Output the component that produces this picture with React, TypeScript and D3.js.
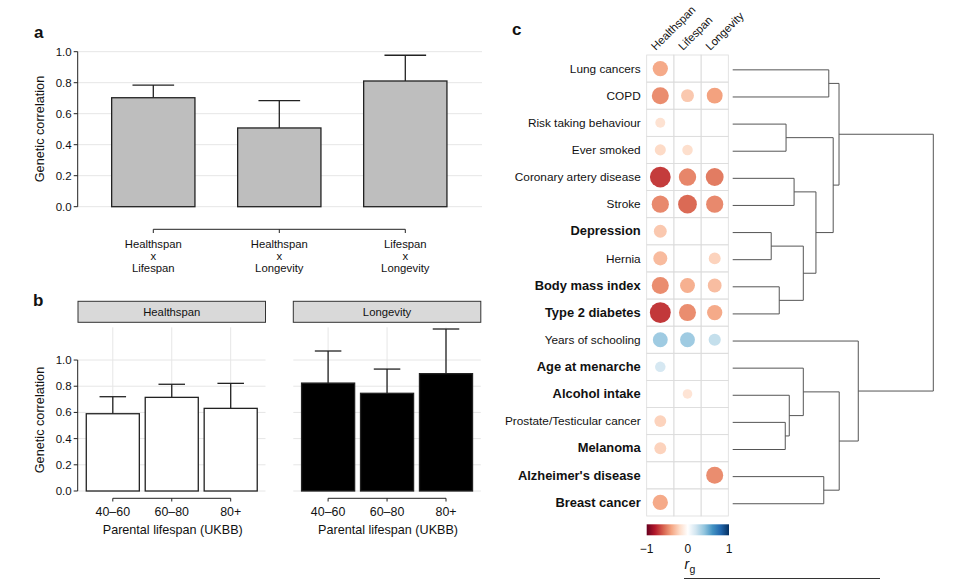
import React from 'react';
import * as d3 from 'd3';

// panel a: pairwise genetic correlations between the three traits
const pairLabels = [
  ['Healthspan', 'x', 'Lifespan'],
  ['Healthspan', 'x', 'Longevity'],
  ['Lifespan', 'x', 'Longevity'],
];
const pairRg = [0.703, 0.508, 0.811];
const pairUpper = [0.785, 0.684, 0.977];
const aTicks = [0, 0.2, 0.4, 0.6, 0.8, 1.0];

// panel b: correlation with parental lifespan groups (UKBB)
const ageGroups = ['40–60', '60–80', '80+'];
const healthspanRg = [0.59, 0.715, 0.631];
const healthspanUpper = [0.72, 0.815, 0.822];
const longevityRg = [0.824, 0.746, 0.896];
const longevityUpper = [1.069, 0.931, 1.237];
const bTicks = [0, 0.2, 0.4, 0.6, 0.8, 1.0];

// panel c: rg of traits with healthspan / lifespan / longevity (null = not shown)
const traitCols = ['Healthspan', 'Lifespan', 'Longevity'];
const traits = [
  'Lung cancers',
  'COPD',
  'Risk taking behaviour',
  'Ever smoked',
  'Coronary artery disease',
  'Stroke',
  'Depression',
  'Hernia',
  'Body mass index',
  'Type 2 diabetes',
  'Years of schooling',
  'Age at menarche',
  'Alcohol intake',
  'Prostate/Testicular cancer',
  'Melanoma',
  "Alzheimer's disease",
  'Breast cancer',
];
const boldTraits = [
  'Depression',
  'Body mass index',
  'Type 2 diabetes',
  'Age at menarche',
  'Alcohol intake',
  'Melanoma',
  "Alzheimer's disease",
  'Breast cancer',
];
const rgHealthspan = [-0.38, -0.47, -0.16, -0.2, -0.7, -0.48, -0.27, -0.32, -0.47, -0.71, 0.36, 0.18, null, -0.23, -0.23, null, -0.38];
const rgLifespan = [null, -0.27, null, -0.18, -0.49, -0.57, null, null, -0.36, -0.47, 0.36, null, -0.15, null, null, null, null];
const rgLongevity = [null, -0.41, null, null, -0.52, -0.48, null, -0.23, -0.31, -0.38, 0.24, null, null, null, null, -0.47, null];

// dendrogram, hclust style: negative = leaf (row), positive = earlier merge
const dendroMerges: [number, number, number][] = [
  [-7, -8, 0.192],
  [-9, -10, 0.232],
  [-14, -15, 0.262],
  [-3, -4, 0.266],
  [-13, 3, 0.282],
  [-5, -6, 0.306],
  [1, 2, 0.352],
  [-12, 5, 0.352],
  [6, 7, 0.415],
  [-16, -17, 0.454],
  [-1, -2, 0.479],
  [4, 9, 0.501],
  [8, 10, 0.531],
  [11, 12, 0.53],
  [-11, 13, 0.626],
  [14, 15, 1.0],
];
const legendTicks = [-1, 0, 1];
// corrplot style red-white-blue ramp
const rampColors = ['#67001F', '#B2182B', '#D6604D', '#F4A582', '#FDDBC7', '#FFFFFF', '#D1E5F0', '#92C5DE', '#4393C3', '#2166AC', '#053061'];

const font = "'Liberation Sans', Arial, Helvetica, sans-serif";
const gridCol = '#e6e6e6';
const ink = '#222';

function PanelA() {
  const y = d3.scaleLinear().domain([0, 1]).range([206.7, 51.7]);
  const keys = pairLabels.map((d) => d.join(' '));
  const x = d3.scalePoint().domain(keys).range([153.3, 405.3]);
  const bw = x.step() * 0.661;
  const axisX = 77.7;
  return (
    <g>
      <text x={34} y={38} fontSize={17} fontWeight="bold">a</text>
      {aTicks.map((t) => (
        <g key={t}>
          <line x1={axisX} x2={482} y1={y(t)} y2={y(t)} stroke={gridCol} />
          <line x1={axisX - 4} x2={axisX} y1={y(t)} y2={y(t)} stroke={ink} />
          <text x={axisX - 6} y={y(t) + 4} fontSize={11.5} textAnchor="end">{t.toFixed(1)}</text>
        </g>
      ))}
      <line x1={axisX} x2={axisX} y1={y(0)} y2={y(1)} stroke={ink} />
      {keys.map((k, i) => {
        const cx = x(k) as number;
        return (
          <g key={k}>
            <line x1={cx} x2={cx} y1={y(pairRg[i])} y2={y(pairUpper[i])} stroke={ink} strokeWidth={1.3} />
            <line x1={cx - bw / 4} x2={cx + bw / 4} y1={y(pairUpper[i])} y2={y(pairUpper[i])} stroke={ink} strokeWidth={1.3} />
            <rect x={cx - bw / 2} y={y(pairRg[i])} width={bw} height={y(0) - y(pairRg[i])} fill="#bebebe" stroke={ink} strokeWidth={1.3} />
            <line x1={cx} x2={cx} y1={229.3} y2={233} stroke={ink} />
            {pairLabels[i].map((s, j) => (
              <text key={j} x={cx} y={247.5 + j * 12.2} fontSize={11.3} textAnchor="middle">{s}</text>
            ))}
          </g>
        );
      })}
      <line x1={x(keys[0])} x2={x(keys[2])} y1={229.3} y2={229.3} stroke={ink} />
      <text transform={`translate(43.5,129) rotate(-90)`} fontSize={12.7} textAnchor="middle">Genetic correlation</text>
    </g>
  );
}

function Facet({ x0, title, values, upper, fill }: { x0: number; title: string; values: number[]; upper: number[]; fill: string }) {
  const y = d3.scaleLinear().domain([0, 1.25]).range([491, 327.3]);
  const x = d3.scalePoint().domain(ageGroups).range([x0 + 34.8, x0 + 152.7]);
  const bw = x.step() * 0.9;
  const w = 187.5;
  return (
    <g>
      <rect x={x0} y={301.3} width={w} height={21} fill="#d9d9d9" stroke="#333" />
      <text x={x0 + w / 2} y={316.3} fontSize={11.3} textAnchor="middle">{title}</text>
      {bTicks.map((t) => (
        <line key={t} x1={x0} x2={x0 + w} y1={y(t)} y2={y(t)} stroke={gridCol} />
      ))}
      {ageGroups.map((g, i) => {
        const cx = x(g) as number;
        return (
          <g key={g}>
            <line x1={cx} x2={cx} y1={y(1.25)} y2={y(0)} stroke={gridCol} />
            <line x1={cx} x2={cx} y1={y(values[i])} y2={y(upper[i])} stroke={ink} strokeWidth={1.3} />
            <line x1={cx - bw / 4} x2={cx + bw / 4} y1={y(upper[i])} y2={y(upper[i])} stroke={ink} strokeWidth={1.3} />
            <rect x={cx - bw / 2} y={y(values[i])} width={bw} height={y(0) - y(values[i])} fill={fill} stroke={ink} strokeWidth={1.3} />
            <line x1={cx} x2={cx} y1={498.3} y2={501.5} stroke={ink} />
            <text x={cx} y={516} fontSize={12.4} textAnchor="middle">{g}</text>
          </g>
        );
      })}
      <line x1={x(ageGroups[0])} x2={x(ageGroups[2])} y1={498.3} y2={498.3} stroke={ink} />
      <text x={x0 + w / 2 + 1} y={534} fontSize={12.6} textAnchor="middle">Parental lifespan (UKBB)</text>
    </g>
  );
}

function PanelB() {
  const y = d3.scaleLinear().domain([0, 1.25]).range([491, 327.3]);
  const axisX = 77.7;
  return (
    <g>
      <text x={33} y={306} fontSize={17} fontWeight="bold">b</text>
      <Facet x0={78} title="Healthspan" values={healthspanRg} upper={healthspanUpper} fill="#fff" />
      <Facet x0={293.3} title="Longevity" values={longevityRg} upper={longevityUpper} fill="#000" />
      <line x1={axisX} x2={axisX} y1={y(0)} y2={y(1)} stroke={ink} />
      {bTicks.map((t) => (
        <g key={t}>
          <line x1={axisX - 4} x2={axisX} y1={y(t)} y2={y(t)} stroke={ink} />
          <text x={axisX - 6} y={y(t) + 4} fontSize={11.5} textAnchor="end">{t.toFixed(1)}</text>
        </g>
      ))}
      <text transform={`translate(43.5,420) rotate(-90)`} fontSize={12.7} textAnchor="middle">Genetic correlation</text>
    </g>
  );
}

function PanelC() {
  const colX = d3.scaleBand().domain(traitCols).range([646.7, 728.3]);
  const rowY = d3.scaleBand().domain(traits).range([55, 516]);
  const color = d3
    .scaleLinear<string>()
    .domain(d3.range(rampColors.length).map((i) => -1 + (2 * i) / (rampColors.length - 1)))
    .range(rampColors)
    .interpolate(d3.interpolateRgb);
  const rad = d3.scaleSqrt().domain([0, 1]).range([0, 12.4]);
  const cols = [rgHealthspan, rgLifespan, rgLongevity];
  const cy = (i: number) => (rowY(traits[i]) as number) + rowY.bandwidth() / 2;

  // dendrogram paths
  const hx = d3.scaleLinear().domain([0, 1]).range([732.7, 933.3]);
  const nodeY: number[] = [];
  const nodeH: number[] = [];
  const pos = (c: number) => (c < 0 ? { y: cy(-c - 1) + 1.3, h: 0 } : { y: nodeY[c - 1], h: nodeH[c - 1] });
  const paths: string[] = [];
  dendroMerges.forEach(([a, b, h], i) => {
    const A = pos(a);
    const B = pos(b);
    nodeY[i] = (A.y + B.y) / 2;
    nodeH[i] = h;
    paths.push(`M${hx(A.h)},${A.y}H${hx(h)}V${B.y}H${hx(B.h)}`);
  });

  const lx = d3.scaleLinear().domain([-1, 1]).range([646.7, 729]);
  const stops = d3.range(0, 1.0001, 0.05);

  return (
    <g>
      <text x={512} y={35} fontSize={17} fontWeight="bold">c</text>
      {traitCols.map((c) => {
        const x = (colX(c) as number) + colX.bandwidth() / 2;
        return (
          <text key={c} transform={`translate(${x - 4.5},51) rotate(-45)`} fontSize={11.3}>{c}</text>
        );
      })}
      {traits.map((t, i) => (
        <text key={t} x={640.7} y={cy(i) + 4.2} textAnchor="end" fontSize={boldTraits.includes(t) ? 12.9 : 11.8} fontWeight={boldTraits.includes(t) ? 'bold' : 'normal'}>{t}</text>
      ))}
      {traitCols.map((c) =>
        traits.map((t) => (
          <rect key={c + t} x={colX(c)} y={rowY(t)} width={colX.bandwidth()} height={rowY.bandwidth()} fill="none" stroke="#dcdcdc" strokeWidth={0.8} />
        ))
      )}
      {traitCols.map((c, j) =>
        cols[j].map((v, i) =>
          v === null ? null : (
            <circle key={c + i} cx={(colX(c) as number) + colX.bandwidth() / 2} cy={cy(i)} r={rad(Math.abs(v))} fill={color(v)} />
          )
        )
      )}
      {paths.map((d, i) => (
        <path key={i} d={d} fill="none" stroke="#555" strokeWidth={1} />
      ))}
      <defs>
        <linearGradient id="rgGrad" x1="0" x2="1" y1="0" y2="0">
          {stops.map((s) => (
            <stop key={s} offset={s} stopColor={color(-1 + 2 * s)} />
          ))}
        </linearGradient>
      </defs>
      <rect x={lx(-1)} y={524.3} width={lx(1) - lx(-1)} height={11} fill="url(#rgGrad)" />
      {legendTicks.map((t) => (
        <text key={t} x={lx(t)} y={553} fontSize={12} textAnchor="middle">{t < 0 ? `−${Math.abs(t)}` : t}</text>
      ))}
      <text x={684.5} y={569} fontSize={14} fontStyle="italic">r</text>
      <text x={689.5} y={573} fontSize={10.5}>g</text>
      <line x1={684} x2={880} y1={578.5} y2={578.5} stroke="#333" strokeWidth={1.2} />
    </g>
  );
}

export default function App() {
  return (
    <svg width={963} height={580} style={{ position: 'absolute', left: 0, top: 0, background: '#fff' }} fontFamily={font} fill="#111">
      <PanelA />
      <PanelB />
      <PanelC />
    </svg>
  );
}
